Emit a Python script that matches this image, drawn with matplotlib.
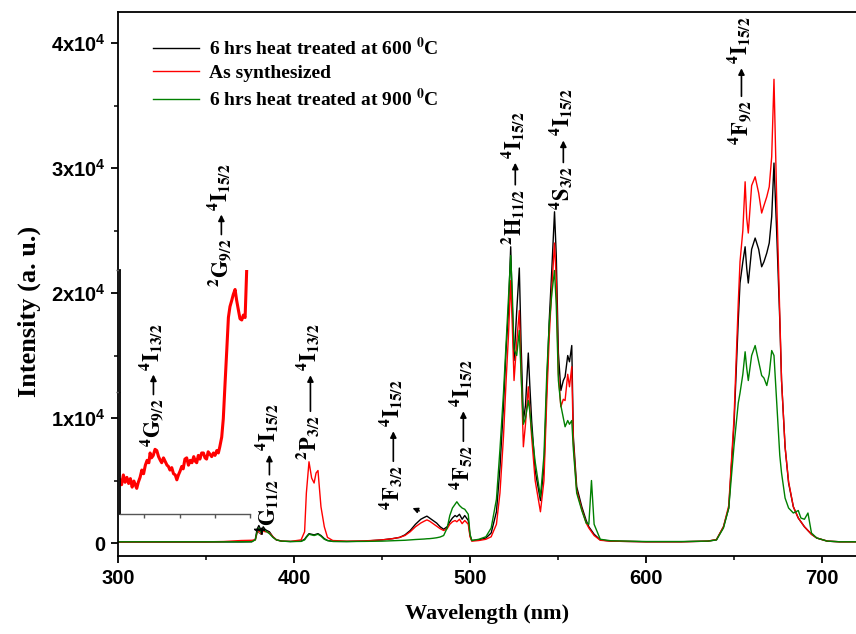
import numpy as np
import matplotlib
matplotlib.use("Agg")
import matplotlib.pyplot as plt
from matplotlib.ticker import FixedLocator, FuncFormatter
from matplotlib.transforms import offset_copy

# emission spectra, wavelength (nm) vs intensity (a.u.)
wl = [300, 310, 320, 330, 340, 350, 360, 370, 376, 378, 379, 380, 381, 381.5, 382.5, 383.5, 384.5,
      386, 388, 390, 393, 398, 404, 406, 407, 408.5, 410, 411.4, 412.5, 413.6, 415.3, 417.2, 419,
      422, 430, 440, 450, 456, 460, 463, 466, 469, 472, 474, 475.5, 477, 479, 481, 483, 485, 487,
      488.5, 490, 491.5, 492.5, 494, 495.5, 497, 499, 500, 501, 505, 509, 512, 515, 517, 519,
      520.5, 521.8, 523.1, 524, 525, 526.5, 528, 529, 530.3, 531.5, 533.1, 534, 535, 537, 540,
      542, 543.6, 545, 546.5, 548, 549, 550.2, 551.6, 553, 554, 555.5, 556.5, 557.8, 558.7,
      560.6, 563.5, 566, 567.5, 569, 570.5, 574, 580, 600, 620, 635, 640, 644, 647, 650, 652.4,
      653.4, 655, 656.3, 657.2, 658.1, 660, 662, 664, 665.7, 667, 668.6, 670, 671.4, 672.7,
      674.2, 676, 677, 679, 681, 683.7, 686.5, 688, 690, 692, 694, 697, 703, 710, 720]

heat_600 = [80, 80, 80, 80, 80, 80, 90, 90, 100, 300, 1100, 1400, 1100, 900, 1300, 1100, 1000,
            900, 500, 250, 150, 120, 150, 300, 500, 750, 700, 650, 700, 750, 600, 350, 200,
            130, 120, 150, 250, 350, 450, 650, 1000, 1500, 1900, 2050, 2150, 2000, 1800, 1600, 1300, 1100, 1300,
            1700, 2000, 2200, 2100, 2300, 1900, 2200, 1800, 600, 200, 250, 400, 800, 2500, 6000, 11000,
            15500, 18500, 23700, 19000, 14600, 18500, 22000, 16000, 9800, 11000, 15200, 12500, 9800, 5800, 3400,
            6000, 12500, 17800, 22000, 26500, 23000, 15200, 12200, 13000, 13300, 15000, 14500, 15800, 8500,
            4500, 2900, 1800, 1300, 1000, 700, 250, 150, 100, 100, 150, 250, 1300, 2800, 9500, 17800,
            20800, 22500, 23700, 22000, 20800, 23500, 24400, 23500, 22100, 22500, 23200, 24000, 26100, 30400,
            25000, 17800, 13000, 7700, 4800, 2900, 2000, 1700, 1300, 1000, 700, 400, 150, 100, 100]

as_synth = [90, 90, 95, 90, 95, 95, 120, 200, 220, 250, 800, 1000, 800, 700, 1000, 900, 900,
            800, 500, 250, 150, 130, 250, 900, 4000, 6500, 5200, 4800, 5600, 5800, 2900, 1300, 450,
            200, 150, 170, 250, 350, 450, 600, 900, 1300, 1600, 1750, 1850, 1750, 1550, 1350, 1150, 1000, 1150,
            1500, 1700, 1800, 1700, 1900, 1550, 1800, 1500, 500, 150, 200, 300, 500, 1500, 4000, 8500,
            13000, 16500, 21000, 17500, 13000, 16000, 18600, 14000, 7700, 9500, 12500, 10500, 8500, 5000, 2500,
            5000, 11500, 16500, 20500, 24000, 21000, 13500, 10900, 11500, 11400, 13500, 12500, 14100, 8000,
            4200, 2700, 1600, 1200, 900, 600, 220, 150, 100, 100, 150, 280, 1300, 3000, 10000, 19200,
            22500, 25000, 28900, 26000, 24800, 28600, 29300, 28000, 26400, 27000, 27700, 28500, 30900, 37100,
            27700, 18400, 13000, 7700, 4900, 2900, 2000, 1700, 1300, 1000, 700, 400, 150, 100, 100]

heat_900 = [100, 100, 100, 100, 100, 100, 100, 100, 110, 250, 900, 1200, 900, 800, 1100, 1000, 900,
            750, 450, 250, 150, 120, 130, 250, 450, 700, 650, 600, 650, 700, 550, 300, 200,
            130, 120, 130, 150, 180, 200, 220, 250, 280, 300, 320, 340, 350, 380, 420, 480, 600, 1200,
            2200, 2800, 3100, 3300, 3000, 2800, 2700, 2300, 700, 200, 300, 500, 1200, 3500, 7500, 12000,
            16000, 19500, 23000, 20000, 15500, 15000, 17000, 13500, 9500, 10000, 11400, 10500, 9000, 6500, 3700,
            7000, 13500, 17500, 20000, 21800, 19000, 13000, 11000, 10000, 9300, 9800, 9500, 9800, 7500,
            4000, 2600, 1600, 1500, 5000, 1500, 300, 180, 120, 120, 150, 250, 1200, 2800, 7800, 11200,
            12000, 13500, 15300, 14000, 13000, 15000, 15800, 14500, 13400, 13200, 12600, 13500, 15400, 15000,
            11400, 7000, 5600, 3600, 2800, 2400, 2600, 2000, 1900, 2400, 800, 400, 150, 100, 100]

# magnified as-synthesized spectrum in the UV
uv_wl = [301, 302, 303, 304, 305, 306, 307, 308, 309, 310, 310.6, 311.5, 312.5, 313.5, 314.5, 315.5,
         316.5, 317.5, 318.2, 319, 320, 321, 322, 323, 324, 324.8, 325.8, 326.8, 327.8, 328.6, 329.5,
         330.5, 331.5, 332.5, 333.4, 334.3, 335.2, 336.2, 337, 338, 339, 340, 341, 342, 343, 344,
         344.7, 345.6, 346.5, 347.5, 348.5, 349.4, 350.3, 351.2, 352.2, 353.2, 354.2, 355.1, 356.1,
         357, 357.8, 358.9, 359.8, 360.8, 361.8, 362.7, 363.6, 364.6, 365.5, 366.5, 367.4, 368.4,
         369.3, 370.3, 371.2, 372.2, 373.1]
uv_red = [68, 64, 72, 66, 70, 65, 69, 62, 67, 63, 61, 66, 70, 76, 73, 80, 84, 82, 90, 86, 88, 93,
          92, 87, 84, 82, 86, 83, 80, 79, 76, 78, 73, 72, 68, 72, 75, 79, 77, 85, 86, 80, 84, 82,
          87, 83, 82, 88, 85, 90, 90, 86, 85, 91, 89, 87, 90, 88, 92, 90, 95, 103, 118, 147, 175,
          201, 210, 215, 220, 224, 215, 207, 200, 199, 203, 201, 240]

yticks = [0, 10000, 20000, 30000, 40000]

# transitions: (wavelength, intensity at label foot, initial level, final level, arrow length px)
transitions = [
    (323.9, 7680, '{}^{4}G_{9/2}', '{}^{4}I_{13/2}', 20),
    (362.5, 20480, '{}^{2}G_{9/2}', '{}^{4}I_{15/2}', 20),
    (389.8, 640, '{}^{4}G_{11/2}', '{}^{4}I_{15/2}', 20),
    (413.1, 6640, '{}^{2}P_{3/2}', '{}^{4}I_{13/2}', 36),
    (460.2, 2640, '{}^{4}F_{3/2}', '{}^{4}I_{15/2}', 30),
    (500.0, 4240, '{}^{4}F_{5/2}', '{}^{4}I_{15/2}', 30),
    (529.5, 23840, '{}^{2}H_{11/2}', '{}^{4}I_{15/2}', 22),
    (556.8, 26640, '{}^{4}S_{3/2}', '{}^{4}I_{15/2}', 22),
    (658.0, 31840, '{}^{4}F_{9/2}', '{}^{4}I_{15/2}', 28),
]

plt.rcParams['mathtext.fontset'] = 'custom'
plt.rcParams['mathtext.rm'] = 'Liberation Sans:bold'
plt.rcParams['mathtext.bf'] = 'Liberation Sans:bold'
plt.rcParams['mathtext.it'] = 'Liberation Sans:bold:italic'
plt.rcParams['font.family'] = 'Liberation Sans'
plt.rcParams['font.weight'] = 'bold'

fig = plt.figure(figsize=(8.56, 6.34), dpi=100)
ax = fig.add_axes([0.1379, 0.1230, 0.8621, 0.8580])

ax.plot(wl, heat_600, color='black', lw=1.0, label='6 hrs heat treated at 600 $\\mathbf{^{0}}$C')
ax.plot(wl, as_synth, color='#ff0000', lw=1.0, label='As synthesized')
ax.plot(wl, heat_900, color='#008000', lw=1.0, label='6 hrs heat treated at 900 $\\mathbf{^{0}}$C')

ax.set_xlim(300, 719.3)
ax.set_ylim(-1040, 42480)
ax.spines['right'].set_visible(False)
for s in ['left', 'bottom', 'top']:
    ax.spines[s].set_linewidth(1.3)

ax.set_xticks([300, 400, 500, 600, 700])
ax.xaxis.set_minor_locator(FixedLocator([350, 450, 550, 650]))
ax.set_yticks(yticks)
ax.yaxis.set_minor_locator(FixedLocator([5000, 15000, 25000, 35000]))


def sci_label(v, pos):
    if v == 0:
        return '0'
    return '%dx10$^{4}$' % round(v / 10000)


ax.yaxis.set_major_formatter(FuncFormatter(sci_label))
ax.tick_params(which='major', direction='out', length=5, width=1.3, labelsize=14.5, pad=4)
ax.tick_params(which='minor', direction='out', length=3, width=1.1)
ax.tick_params(top=False, right=False)

ax.set_xlabel('Wavelength (nm)', family='Liberation Serif', fontweight='bold', fontsize=16, labelpad=12)
ax.set_ylabel('Intensity (a. u.)', family='Liberation Serif', fontweight='bold', fontsize=19)
ax.yaxis.set_label_coords(-0.104, 0.45)

leg = ax.legend(loc='upper left', bbox_to_anchor=(0.047, 0.955), frameon=False, borderpad=0,
                borderaxespad=0, handlelength=2.4, handletextpad=0.5, labelspacing=0.3,
                prop={'family': 'Liberation Serif', 'weight': 'bold', 'size': 14})
for t in leg.get_texts():
    t.set_math_fontfamily('stix')

# transition labels: lower level, arrow, upper level stacked upwards
fig.canvas.draw()
renderer = fig.canvas.get_renderer()
fs = 16
gap = 4
for x, y, lo, hi, alen in transitions:
    t_lo = ax.text(x, y, r'$\mathbf{%s}$' % lo, rotation=90, rotation_mode='anchor',
                   ha='left', va='baseline', fontsize=fs, zorder=5)
    t_lo.set_math_fontfamily('stix')
    h = t_lo.get_window_extent(renderer).height
    dx = -0.3 * fs * fig.dpi / 72
    start = offset_copy(ax.transData, fig=fig, x=dx, y=h + gap, units='dots')
    end = offset_copy(ax.transData, fig=fig, x=dx, y=h + gap + alen, units='dots')
    ax.annotate('', xy=(x, y), xycoords=end, xytext=(x, y), textcoords=start,
                arrowprops=dict(arrowstyle='-|>', color='black', lw=1.2, mutation_scale=9,
                                shrinkA=0, shrinkB=0))
    up = offset_copy(ax.transData, fig=fig, x=0, y=h + 2 * gap + alen, units='dots')
    t_hi = ax.text(x, y, r'$\mathbf{%s}$' % hi, rotation=90, rotation_mode='anchor',
                   ha='left', va='baseline', fontsize=fs, zorder=5, transform=up)
    t_hi.set_math_fontfamily('stix')

ax.annotate('', xy=(465.9, 2880), xytext=(472.7, 2480),
            arrowprops=dict(arrowstyle='-|>', color='black', lw=1.0, mutation_scale=8))

# inset with the magnified UV part of the as-synthesized curve
ins = fig.add_axes([0.1402, 0.1893, 0.1519, 0.3849])
ins.patch.set_alpha(0)
ins.plot(uv_wl, uv_red, color='#ff0000', lw=2.2)
ins.set_xlim(301.1, 375)
ins.set_ylim(40, 240)
ins.spines['top'].set_visible(False)
ins.spines['right'].set_visible(False)
ins.spines['left'].set_linewidth(1.3)
ins.spines['bottom'].set_linewidth(1.0)
ins.spines['bottom'].set_color('#555555')
ins.set_xticks([315, 335, 355, 375])
ins.set_yticks([140, 240])
ins.tick_params(direction='out', length=3, width=1.0, labelbottom=False, labelleft=False,
                colors='#555555')

fig.savefig('out.png', dpi=100)
